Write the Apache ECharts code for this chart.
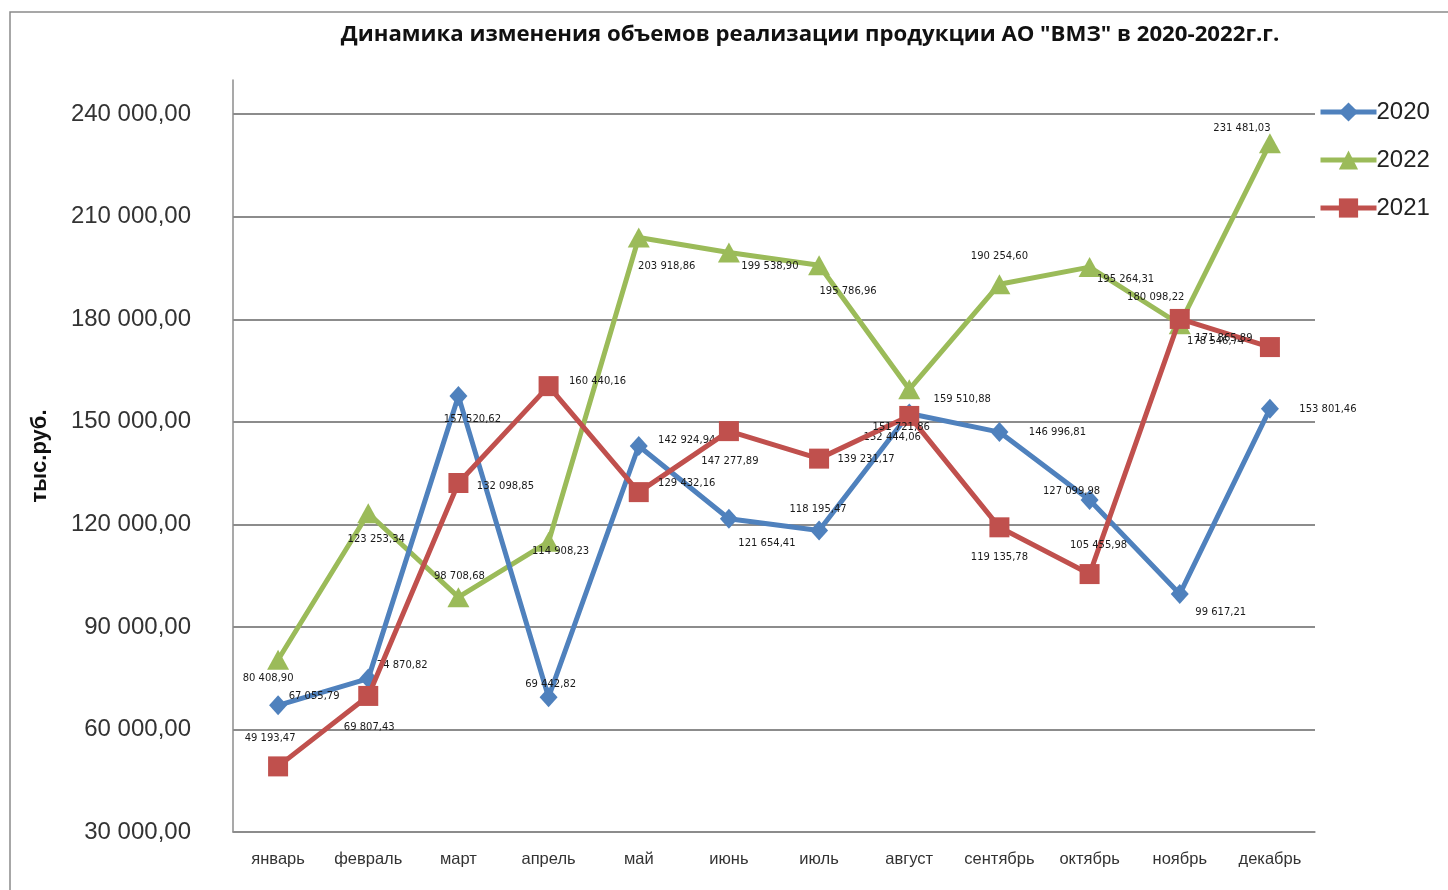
<!DOCTYPE html>
<html>
<head>
<meta charset="utf-8">
<script src="https://cdn.jsdelivr.net/npm/echarts@6/dist/echarts.min.js"></script>
<style>
html,body{margin:0;padding:0;background:#fff;}
#chart{width:1448px;height:890px;}
</style>
</head>
<body>
<div id="chart"></div>
<script>
const titleText = 'Динамика изменения объемов реализации продукции АО "ВМЗ" в 2020-2022г.г.';
const yAxisName = 'тыс.руб.';
const months = ['январь','февраль','март','апрель','май','июнь','июль','август','сентябрь','октябрь','ноябрь','декабрь'];
const seriesNames = ['2020','2021','2022'];
const legendOrder = ['2020','2022','2021'];
const v2020 = [67055.79, 74870.82, 157520.62, 69442.82, 142924.94, 121654.41, 118195.47, 152444.06, 146996.81, 127099.98, 99617.21, 153801.46];
const v2021 = [49193.47, 69807.43, 132098.85, 160440.16, 129432.16, 147277.89, 139231.17, 151721.86, 119135.78, 105455.98, 180098.22, 171865.89];
const v2022 = [80408.90, 123253.34, 98708.68, 114908.23, 203918.86, 199538.90, 195786.96, 159510.88, 190254.60, 195264.31, 178546.74, 231481.03];
const yMin = 30000, yMax = 250000, yStep = 30000;

// label placement (style only)
const off2020 = [[36,-9],[34,-13],[14,23],[2,-13],[48,-6],[38,25],[-1,-21],[-17,24],[58,0],[-18,-9],[41,18],[58,1]];
const off2021 = [[-8,-28],[1,31],[47,3],[49,-5],[48,-9],[1,30],[47,1],[-8,11],[0,30],[9,-29],[-24,-22],[-46,-9]];
const off2022 = [[-10,19],[8,26],[1,-21],[12,10],[28,29],[41,14],[29,26],[53,10],[0,-28],[36,12],[36,17],[-28,-15]];

function fmt(v){
  const s = v.toFixed(2).split('.');
  const int = s[0].replace(/\B(?=(\d{3})+(?!\d))/g, ' ');
  return int + ',' + s[1];
}

function makeData(vals, offs){
  return vals.map((v,i)=>({value:v, label:{offset:offs[i]}}));
}

const chart = echarts.init(document.getElementById('chart'));
const lbl = {show:true, position:'inside', align:'center', verticalAlign:'middle',
  fontFamily:'DejaVu Sans', fontSize:10, color:'#1a1a1a', formatter:p=>fmt(p.value)};

chart.setOption({
  animation:false,
  backgroundColor:'#fff',
  graphic:[{type:'rect', shape:{x:10,y:12,width:1460,height:900}, style:{fill:'none', stroke:'#8a8a8a', lineWidth:1.5}, silent:true}],
  title:{text:titleText, left:805, textAlign:'center', top:19,
    textStyle:{fontFamily:'Open Sans', fontWeight:'bold', fontSize:22.2, color:'#111'}},
  legend:{data:legendOrder, orient:'vertical', left:1313, top:94, itemWidth:56, itemHeight:24, itemGap:22,
    lineStyle:{width:5},
    textStyle:{fontFamily:'Liberation Sans', fontSize:24, color:'#222', lineHeight:26, padding:[0,0,0,-5]}},
  grid:{left:233, right:133, top:80, bottom:58, containLabel:false},
  xAxis:{type:'category', data:months, boundaryGap:true,
    axisLine:{lineStyle:{color:'#8c8c8c', width:1.5}}, axisTick:{show:false},
    axisLabel:{interval:0, fontFamily:'Liberation Sans', fontSize:16.5, color:'#333', margin:19}},
  yAxis:{type:'value', min:yMin, max:yMax, interval:yStep,
    name:yAxisName, nameLocation:'middle', nameRotate:90, nameGap:182,
    nameTextStyle:{fontFamily:'Liberation Sans', fontWeight:'bold', fontSize:22, color:'#111'},
    axisLine:{show:true, lineStyle:{color:'#8c8c8c', width:1.5}}, axisTick:{show:false},
    axisLabel:{fontFamily:'Liberation Sans', fontSize:24, color:'#333', margin:42,
      formatter:v=> v>240000 ? '' : fmt(v)},
    splitLine:{show:true, lineStyle:{color:['#8c8c8c','#8c8c8c','#8c8c8c','#8c8c8c','#8c8c8c','#8c8c8c','#8c8c8c','#8c8c8c','rgba(0,0,0,0)'], width:2}}},
  series:[
    {name:'2022', type:'line', data:makeData(v2022, off2022), symbol:'triangle', symbolSize:[22,20],
      lineStyle:{width:5, color:'#9bbb59'}, itemStyle:{color:'#9bbb59'}, label:lbl, z:2},
    {name:'2020', type:'line', data:makeData(v2020, off2020), symbol:'diamond', symbolSize:[18,20],
      lineStyle:{width:5, color:'#4f81bd'}, itemStyle:{color:'#4f81bd'}, label:lbl, z:3},
    {name:'2021', type:'line', data:makeData(v2021, off2021), symbol:'rect', symbolSize:20,
      lineStyle:{width:5, color:'#c0504d'}, itemStyle:{color:'#c0504d'}, label:lbl, z:4}
  ]
});
</script>
</body>
</html>
